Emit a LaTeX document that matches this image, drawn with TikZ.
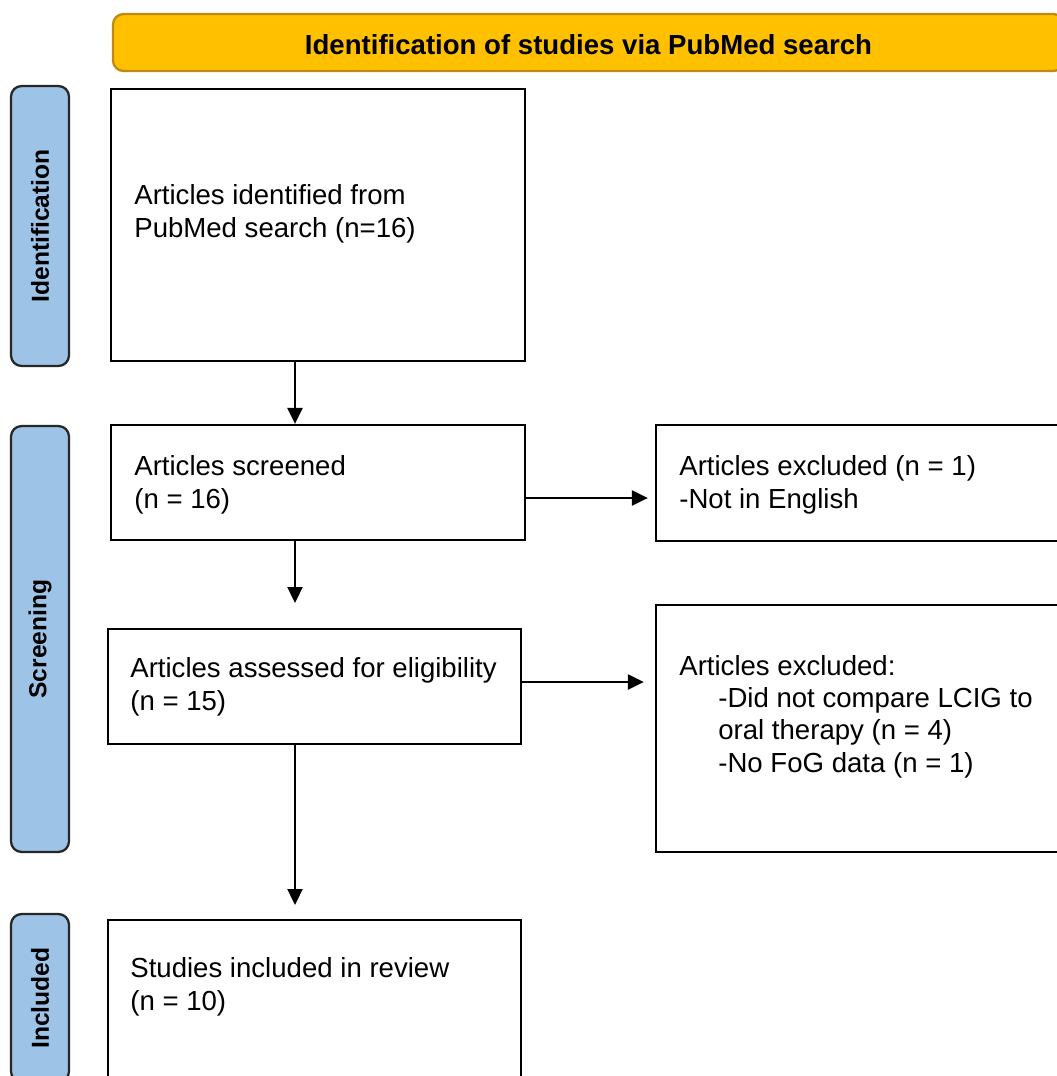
\documentclass[tikz,border=0pt]{standalone}
\usepackage{fontspec}
\setmainfont{Liberation Sans}
\usepackage{tikz}
\usetikzlibrary{arrows.meta,positioning,fit}
\definecolor{banner}{HTML}{FFC000}
\definecolor{bannerline}{HTML}{BF8A14}
\definecolor{phase}{HTML}{9DC3E6}
\definecolor{ink}{HTML}{000000}

\begin{document}
\begin{tikzpicture}[x=0.02cm,y=-0.02cm,
    font=\fontsize{15.7}{18.4}\selectfont,
    box/.style={draw=ink,line width=1.3pt,inner sep=0pt},
    phasebox/.style={draw=ink!85,fill=phase,line width=1.3pt,rounded corners=6pt,
      rotate=90,minimum height=1.16cm,font=\fontsize{14}{16}\selectfont\bfseries},
    txt/.style={anchor=base west,align=left,inner sep=0pt},
    arr/.style={-{Triangle[length=0.32cm,width=0.3cm]},line width=1.3pt,ink}]
  \def\ax{295}
  \useasboundingbox (0,0) rectangle (1057,1076);
  \clip (0,0) rectangle (1057,1076);
  % banner
  \node[draw=bannerline,fill=banner,line width=1.3pt,rounded corners=6pt,inner sep=0pt,
    fit={(113,14) (1064,71)}] (banner) {};
  \node[font=\fontsize{15.7}{18}\selectfont\bfseries] (title) at ([yshift=-0.04cm]banner.center) {Identification of studies via PubMed search};
  % phases
  \node[phasebox,minimum width=5.6cm] (idphase) at (40,226) {Identification};
  \node[phasebox,minimum width=8.52cm] (scrphase) at (40,639) {Screening};
  \node[phasebox,minimum width=3.36cm] (incphase) at (40,998) {Included};
  % boxes
  \node[box,fit={(111,89) (525,361)}] (idbox) {};
  \node[box,fit={(111,425) (525,540)}] (scrbox) {};
  \node[box,fit={(108,629) (521,744)}] (eligbox) {};
  \node[box,fit={(108,920) (521,1110)}] (incbox) {};
  \node[box,fit={(656,425) (1090,541)}] (exone) {};
  \node[box,fit={(656,605) (1090,852)}] (extwo) {};
  % texts (anchored at the last baseline)
  \node[txt] (idtxt) at (134,237) {Articles identified from\\PubMed search (n=16)};
  \node[txt] (scrtxt) at (134,508) {Articles screened\\(n = 16)};
  \node[txt] (eligtxt) at (130,710) {Articles assessed for eligibility\\(n = 15)};
  \node[txt] (inctxt) at (130,1010) {Studies included in review\\(n = 10)};
  \node[txt] (exonetxt) at (679,508) {Articles excluded (n = 1)\\-Not in English};
  \node[txt] (extwohead) at (679,675) {Articles excluded:};
  \node[txt] (extwotxt) at (718,772) {-Did not compare LCIG to\\oral therapy (n = 4)\\-No FoG data (n = 1)};
  % arrows
  \coordinate (tipa) at (\ax,603);
  \coordinate (tipb) at (\ax,905);
  \draw[arr] (idbox.south -| tipa) -- (scrbox.north -| tipa);
  \draw[arr] (scrbox.south -| tipa) -- (tipa);
  \draw[arr] (eligbox.south -| tipb) -- (tipb);
  \draw[arr,shorten >=0.14cm] (scrbox.east |- 0,498) -- (exone.west |- 0,498);
  \draw[arr,shorten >=0.22cm] (eligbox.east |- 0,682) -- (extwo.west |- 0,682);
\end{tikzpicture}
\end{document}
